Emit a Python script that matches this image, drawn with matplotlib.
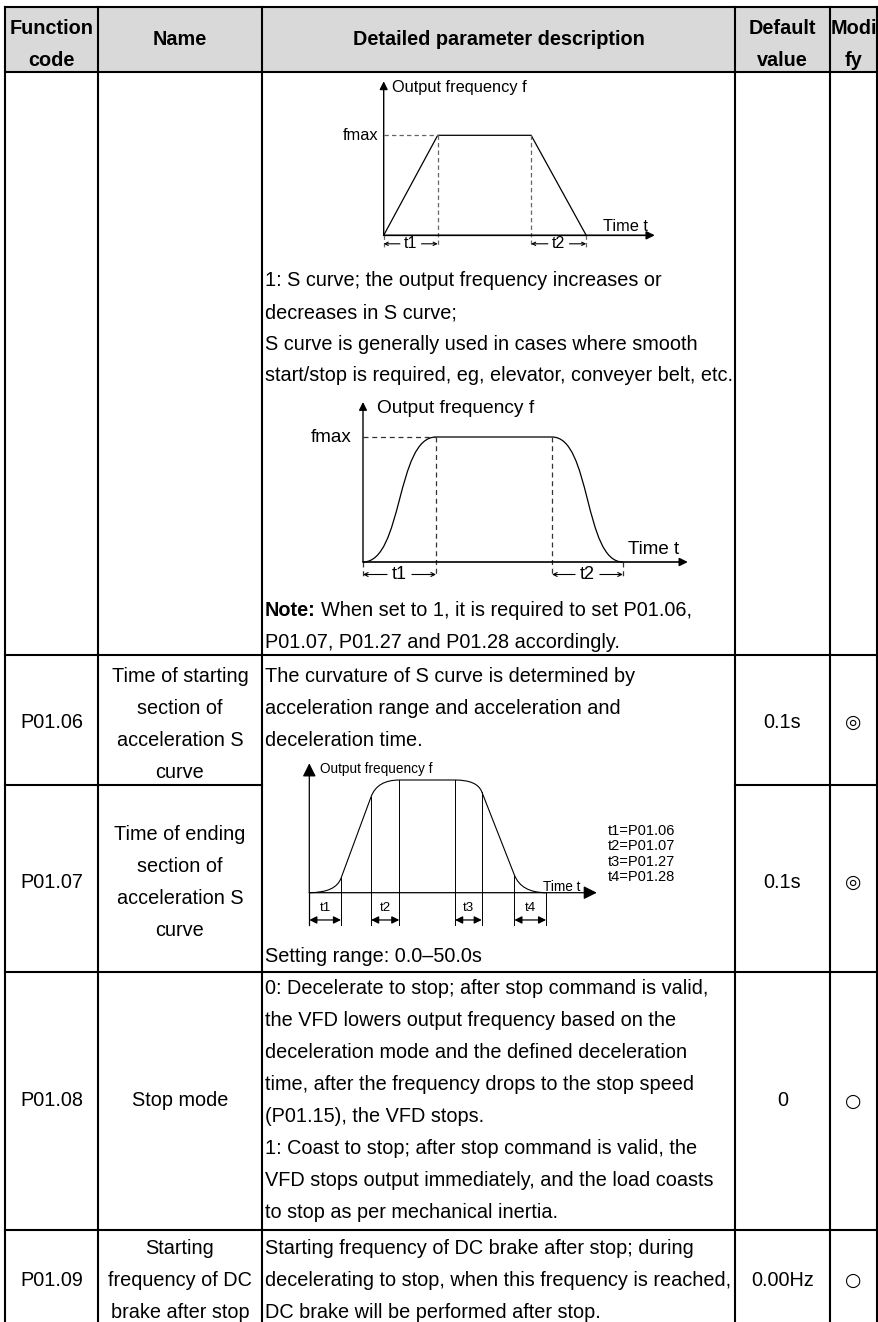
import matplotlib
matplotlib.use('Agg')
import matplotlib.pyplot as plt
from matplotlib.path import Path
from matplotlib.patches import PathPatch, Rectangle

plt.rcParams['font.family'] = ['Liberation Sans', 'DejaVu Sans']

W, H = 879, 1322
FS = 14.3          # body text size (pt at 100 dpi)
LS = 32            # line spacing in px

# ---- table data -------------------------------------------------------------
header_labels = [["Function", "code"], ["Name"], ["Detailed parameter description"],
                 ["Default", "value"], ["Modi", "fy"]]
codes = ["P01.06", "P01.07", "P01.08", "P01.09"]
names = [["Time of starting", "section of", "acceleration S", "curve"],
         ["Time of ending", "section of", "acceleration S", "curve"],
         ["Stop mode"],
         ["Starting", "frequency of DC", "brake after stop"]]
defaults = ["0.1s", "0.1s", "0", "0.00Hz"]
modify = ["\u25ce", "\u25ce", "\u25cb", "\u25cb"]

desc_s_curve = ["1: S curve; the output frequency increases or",
                "decreases in S curve;",
                "S curve is generally used in cases where smooth",
                "start/stop is required, eg, elevator, conveyer belt, etc."]
note_bold = "Note:"
note_lines = ["When set to 1, it is required to set P01.06,",
              "P01.07, P01.27 and P01.28 accordingly."]
desc_curvature = ["The curvature of S curve is determined by",
                  "acceleration range and acceleration and",
                  "deceleration time."]
setting_range = "Setting range: 0.0\u201350.0s"
desc_stop = ["0: Decelerate to stop; after stop command is valid,",
             "the VFD lowers output frequency based on the",
             "deceleration mode and the defined deceleration",
             "time, after the frequency drops to the stop speed",
             "(P01.15), the VFD stops.",
             "1: Coast to stop; after stop command is valid, the",
             "VFD stops output immediately, and the load coasts",
             "to stop as per mechanical inertia."]
desc_dc = ["Starting frequency of DC brake after stop; during",
           "decelerating to stop, when this frequency is reached,",
           "DC brake will be performed after stop."]

# ---- diagram data (time in units of t1, frequency in units of fmax) ----------
lin_t = [0, 1.0, 2.73, 3.75]
lin_f = [0, 1, 1, 0]
s_t = [0, 1.0, 2.59, 3.56]
s_f = [0, 1, 1, 0]
s4_t = [0, 1.0, 1.95, 2.84, 4.6, 5.44, 6.47, 7.47]
s4_f = [0, 0.128, 0.852, 1.0, 1.0, 0.896, 0.157, 0]
s4_labels = ["t1", "t2", "t3", "t4"]
s4_legend = ["t1=P01.06", "t2=P01.07", "t3=P01.27", "t4=P01.28"]

# ---- layout ----------------------------------------------------------------
cols = [5, 98, 262, 735, 830, 877]
top, head_bot = 7, 72
row_lines = [655, 972, 1230]
split_line = 785      # P01.06 / P01.07, not through the description cell
DX = 265

fig = plt.figure(figsize=(W / 100, H / 100), dpi=100)
ax = fig.add_axes([0, 0, 1, 1])
ax.set_xlim(0, W)
ax.set_ylim(H, 0)
ax.axis('off')


def put(x, y, s, ha='left', bold=False, size=FS):
    return ax.text(x, y, s, ha=ha, va='center', fontsize=size,
                   fontweight='bold' if bold else 'normal', color='k')


def inset(ox, oy, sx, sy, t0, t1, f0, f1):
    left, right = ox + t0 * sx, ox + t1 * sx
    tp, bt = oy - f1 * sy, oy - f0 * sy
    a = fig.add_axes([left / W, 1 - bt / H, (right - left) / W, (bt - tp) / H])
    a.set_xlim(t0, t1)
    a.set_ylim(f0, f1)
    a.axis('off')
    return a


def arrow(a, p0, p1, style='-|>', ms=11, lw=1.0):
    a.annotate('', xy=p1, xytext=p0, annotation_clip=False,
               arrowprops=dict(arrowstyle=style, color='k', lw=lw,
                               mutation_scale=ms, shrinkA=0, shrinkB=0))


# header background and grid
ax.add_patch(Rectangle((cols[0], top), cols[-1] - cols[0], head_bot - top,
                       facecolor='#d9d9d9', edgecolor='none', zorder=0))
lw = 1.5
for y in [top, head_bot] + row_lines:
    ax.plot([cols[0], cols[-1]], [y, y], color='k', lw=lw, solid_capstyle='projecting')
ax.plot([cols[0], cols[2]], [split_line, split_line], color='k', lw=lw)
ax.plot([cols[3], cols[5]], [split_line, split_line], color='k', lw=lw)
for x in cols:
    ax.plot([x, x], [top, H + 5], color='k', lw=lw, solid_capstyle='projecting')

# header text
for i, lab in enumerate(header_labels):
    xc = (cols[i] + cols[i + 1]) / 2
    ys = [39.5] if len(lab) == 1 else [28, 60]
    for s, y in zip(lab, ys):
        put(xc, y, s, ha='center', bold=True)

# left / right columns
name_y0 = [676, 834, 1101, 1248]
code_y = [722, 882, 1101, 1280]
for i in range(4):
    put((cols[0] + cols[1]) / 2, code_y[i], codes[i], ha='center')
    for k, s in enumerate(names[i]):
        put((cols[1] + cols[2]) / 2, name_y0[i] + k * LS, s, ha='center')
    put((cols[3] + cols[4]) / 2, code_y[i], defaults[i], ha='center')
    ax.text((cols[4] + cols[5]) / 2, code_y[i], modify[i], ha='center', va='center',
            fontsize=13.5, family=['DejaVu Sans'])

# description texts
for k, s in enumerate(desc_s_curve):
    put(DX, 281 + k * 31.6, s)
nb = put(DX, 611, note_bold, bold=True)
r = fig.canvas.get_renderer()
wb = nb.get_window_extent(r).width
put(DX + wb + 5, 611, note_lines[0])
put(DX, 643, note_lines[1])
for k, s in enumerate(desc_curvature):
    put(DX, 676 + k * LS, s)
put(DX, 957, setting_range)
for k, s in enumerate(desc_stop):
    put(DX, 989 + k * LS, s)
for k, s in enumerate(desc_dc):
    put(DX, 1248 + k * LS, s)

# ---- diagram 1: linear acceleration / deceleration --------------------------
a1 = inset(383.7, 235.3, 54, 100, -0.9, 5.2, -0.2, 1.62)
a1.plot(lin_t, lin_f, color='k', lw=0.9, clip_on=False)
arrow(a1, (0, 0), (5.02, 0), ms=12, lw=1.2)
arrow(a1, (0, 0), (0, 1.54), ms=12, lw=1.0)
dash = dict(color='#666666', lw=0.9, ls=(0, (3.5, 2.5)), clip_on=False)
a1.plot([0, lin_t[1]], [1, 1], **dash)
for t in lin_t[1:3]:
    a1.plot([t, t], [1, -0.12], **dash)
for t in (lin_t[0], lin_t[3]):
    a1.plot([t, t], [0, -0.12], **dash)
for (ta, tb), lab in zip([(lin_t[0], lin_t[1]), (lin_t[2], lin_t[3])], ["t1", "t2"]):
    m = (ta + tb) / 2
    a1.text(m, -0.085, lab, ha='center', va='center', fontsize=11.5)
    arrow(a1, (m - 0.2, -0.085), (ta, -0.085), style='->', ms=6, lw=0.8)
    arrow(a1, (m + 0.2, -0.085), (tb, -0.085), style='->', ms=6, lw=0.8)
a1.text(-0.1, 1, "fmax", ha='right', va='center', fontsize=11.8)
a1.text(0.15, 1.48, "Output frequency f", ha='left', va='center', fontsize=11.8)
a1.text(4.06, 0.09, "Time t", ha='left', va='center', fontsize=11.8)

# ---- diagram 2: S curve -----------------------------------------------------
HANDLE = 0.55
a2 = inset(363, 562, 73, 125, -0.9, 4.6, -0.2, 1.35)
up = s_t[1] - s_t[0]
dn = s_t[3] - s_t[2]
verts = [(s_t[0], s_f[0]), (s_t[0] + HANDLE * up, s_f[0]), (s_t[1] - HANDLE * up, s_f[1]),
         (s_t[1], s_f[1]), (s_t[2], s_f[2]),
         (s_t[2] + HANDLE * dn, s_f[2]), (s_t[3] - HANDLE * dn, s_f[3]), (s_t[3], s_f[3])]
codes_p = [Path.MOVETO, Path.CURVE4, Path.CURVE4, Path.CURVE4, Path.LINETO,
           Path.CURVE4, Path.CURVE4, Path.CURVE4]
a2.add_patch(PathPatch(Path(verts, codes_p), facecolor='none', edgecolor='k', lw=0.9,
                       clip_on=False))
arrow(a2, (0, 0), (4.45, 0), ms=12, lw=1.2)
arrow(a2, (0, 0), (0, 1.28), ms=12, lw=1.0)
dash2 = dict(color='#333333', lw=0.9, ls=(0, (4, 3)), clip_on=False)
a2.plot([0, s_t[1]], [1, 1], **dash2)
for t in s_t[1:3]:
    a2.plot([t, t], [1, -0.12], **dash2)
for t in (s_t[0], s_t[3]):
    a2.plot([t, t], [0, -0.12], **dash2)
for (ta, tb), lab in zip([(s_t[0], s_t[1]), (s_t[2], s_t[3])], ["t1", "t2"]):
    m = (ta + tb) / 2
    a2.text(m, -0.1, lab, ha='center', va='center', fontsize=13)
    arrow(a2, (m - 0.17, -0.1), (ta, -0.1), style='->', ms=7, lw=0.8)
    arrow(a2, (m + 0.17, -0.1), (tb, -0.1), style='->', ms=7, lw=0.8)
a2.text(-0.16, 1, "fmax", ha='right', va='center', fontsize=13.5)
a2.text(0.19, 1.23, "Output frequency f", ha='left', va='center', fontsize=13.8)
a2.text(3.63, 0.1, "Time t", ha='left', va='center', fontsize=13.5)

# ---- diagram 3: S curve sections t1..t4 -------------------------------------
t, f = s4_t, s4_f


def cross(i, j, level):
    return t[i] + (level - f[i]) * (t[j] - t[i]) / (f[j] - f[i])


a3 = inset(309.3, 892.7, 31.7, 112.7, -0.5, 12.5, -0.35, 1.2)
verts3 = [(t[0], f[0]), (cross(1, 2, 0), 0), (t[1], f[1]), (t[2], f[2]),
          (cross(1, 2, 1), 1), (t[3], f[3]), (t[4], f[4]),
          (cross(5, 6, 1), 1), (t[5], f[5]), (t[6], f[6]),
          (cross(5, 6, 0), 0), (t[7], f[7])]
codes3 = [Path.MOVETO, Path.CURVE3, Path.CURVE3, Path.LINETO, Path.CURVE3, Path.CURVE3,
          Path.LINETO, Path.CURVE3, Path.CURVE3, Path.LINETO, Path.CURVE3, Path.CURVE3]
a3.add_patch(PathPatch(Path(verts3, codes3), facecolor='none', edgecolor='k', lw=0.8,
                       clip_on=False))
a3.plot([0, 0], [0, -0.287], color='k', lw=0.9, clip_on=False)
arrow(a3, (0, 0), (9.07, 0), ms=20, lw=0.9)
arrow(a3, (0, 0), (0, 1.148), ms=20, lw=0.9)
for ti, fi in zip(t[1:], f[1:]):
    a3.plot([ti, ti], [fi, -0.287], color='k', lw=0.7, clip_on=False)
for k, lab in enumerate(s4_labels):
    ta, tb = t[2 * k], t[2 * k + 1]
    arrow(a3, (ta, -0.242), (tb, -0.242), style='<|-|>', ms=11, lw=0.9)
    a3.text((ta + tb) / 2, -0.138, lab, ha='center', va='center', fontsize=9.5)
a3.text(0.34, 1.098, "Output frequency f", ha='left', va='center', fontsize=9.8)
a3.text(8.54, 0.048, "Time t", ha='right', va='center', fontsize=9.8)
for k, s in enumerate(s4_legend):
    a3.text(9.43, 0.55 - k * 0.138, s, ha='left', va='center', fontsize=10.5)

fig.savefig('out.png', dpi=100)
